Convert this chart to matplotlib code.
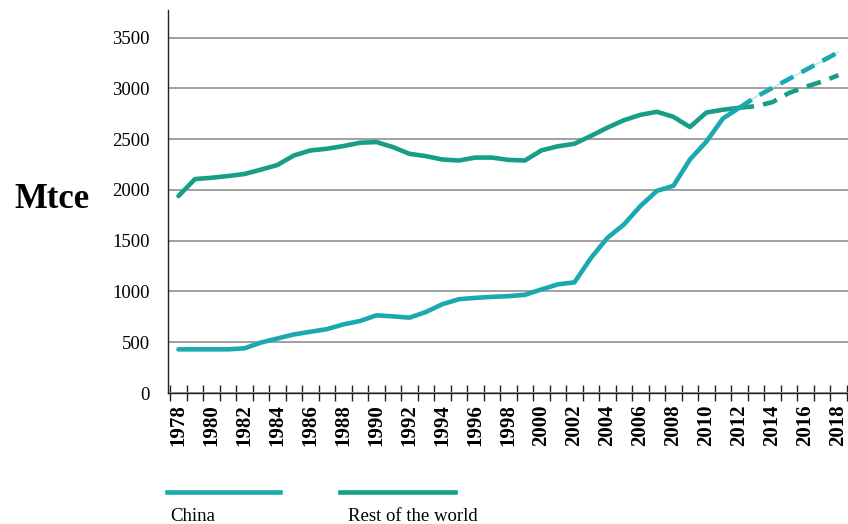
import matplotlib.pyplot as plt
import numpy as np
from matplotlib.lines import Line2D

plt.rcParams['font.family'] = ['Liberation Serif', 'DejaVu Serif']

# actual consumption, Mtce
years = list(range(1978, 2013))
china = [430, 430, 430, 430, 440, 497, 537, 577, 603, 629,
         676, 709, 765, 755, 742, 798, 875, 924, 937, 947,
         954, 967, 1020, 1070, 1090, 1330, 1528, 1660, 1842, 1991,
         2041, 2300, 2477, 2704, 2810]
rest = [1940, 2107, 2120, 2137, 2157, 2200, 2246, 2340, 2389, 2406,
        2432, 2465, 2472, 2422, 2356, 2333, 2300, 2290, 2319, 2319,
        2296, 2290, 2390, 2430, 2455, 2532, 2614, 2687, 2740, 2770,
        2720, 2620, 2763, 2790, 2810]

# projections
proj_years = list(range(2012, 2019))
china_proj = [2810, 2917, 3005, 3093, 3181, 3269, 3357]
rest_proj = [2810, 2825, 2865, 2955, 3015, 3068, 3130]

label_years = list(range(1978, 2019, 2))
yticks = [0, 500, 1000, 1500, 2000, 2500, 3000, 3500]

c_china = '#1aa9b1'
c_rest = '#169f86'

fig = plt.figure(figsize=(8.48, 5.24), dpi=100)
ax = fig.add_axes([0.1978, 0.25, 0.8022, 0.731])

ax.plot(years, rest, color=c_rest, lw=3.3, solid_capstyle='round', zorder=3)
ax.plot(proj_years, rest_proj, color=c_rest, lw=3.3, dashes=(3.2, 2), zorder=3)
ax.plot(proj_years, china_proj, color='#a6dcdf', lw=0.8, zorder=3)
ax.plot(proj_years, china_proj, color=c_china, lw=3.3, dashes=(3.2, 2), zorder=4)
ax.plot(years, china, color=c_china, lw=3.3, solid_capstyle='round', zorder=4)

ax.set_xlim(1977.35, 2018.58)
ax.set_ylim(0, 3773)

ax.set_xticks(label_years)
ax.set_xticklabels([str(y) for y in label_years], rotation=90,
                   fontweight='bold', fontsize=15)
ax.set_xticks(np.arange(1977.5, 2019, 1), minor=True)
ax.tick_params(axis='x', which='major', length=0, pad=8)
ax.tick_params(axis='x', which='minor', direction='inout', length=12,
               width=1, color='#222222')

ax.set_yticks(yticks)
ax.set_yticklabels([str(v) for v in yticks], fontsize=13.5)
ax.tick_params(axis='y', length=0, pad=13)

ax.grid(axis='y', color='#999999', lw=1.3)
ax.set_axisbelow(True)
for s in ['top', 'right']:
    ax.spines[s].set_visible(False)
ax.spines['left'].set_color('#222222')
ax.spines['bottom'].set_color('#222222')
ax.spines['left'].set_linewidth(1)
ax.spines['bottom'].set_linewidth(1)

fig.text(52 / 848, 1 - 200 / 524, 'Mtce', ha='center', va='center',
         fontsize=25, fontweight='bold')

# legend below the chart
fig.add_artist(Line2D([0.197, 0.330], [0.061, 0.061], color=c_china, lw=3.3))
fig.add_artist(Line2D([0.401, 0.537], [0.061, 0.061], color=c_rest, lw=3.3))
fig.text(0.2005, 0.014, 'China', ha='left', va='center', fontsize=13.5)
fig.text(0.410, 0.014, 'Rest of the world', ha='left', va='center', fontsize=13.5)

fig.savefig('out.png', dpi=100)
